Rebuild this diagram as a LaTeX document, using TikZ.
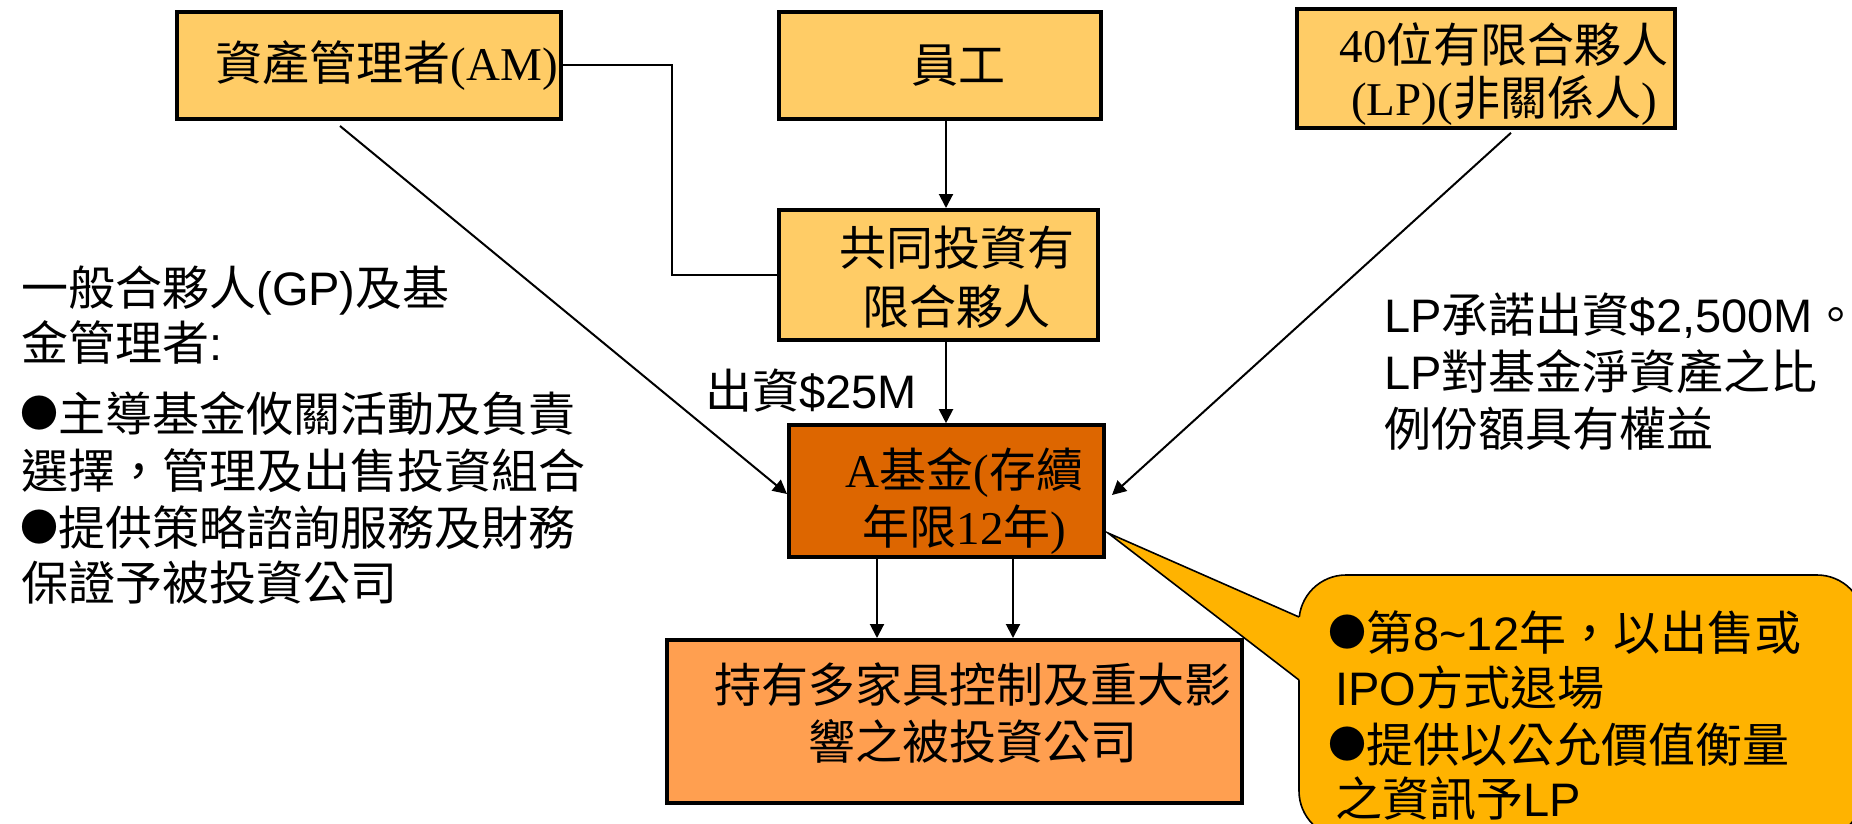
\documentclass[tikz,border=0pt]{standalone}
\usepackage{fontspec}
\setmainfont{Liberation Serif}
\newfontfamily\cjk{Noto Sans CJK TC}
\newfontfamily\ars{Liberation Sans}
\usetikzlibrary{arrows.meta,calc}
\definecolor{boxY}{HTML}{FFCC66}
\definecolor{boxA}{HTML}{DD6600}
\definecolor{boxB}{HTML}{FF9F50}
\definecolor{callY}{HTML}{FFB300}
\newcommand\ind{\hspace*{18pt}}
\newcommand\cj[1]{{\cjk #1}}
\newcommand\as[1]{{\ars #1}}
\newcommand\bul{\makebox[18.5pt][c]{\raisebox{1.7pt}{\cjk\fontsize{19pt}{28pt}\selectfont ●}}}
\newcommand\sH[1]{\rule{0pt}{#1}}
\newcommand\sD[1]{\rule[-#1]{0pt}{0pt}}
\begin{document}
\begin{tikzpicture}[x=0.5pt,y=-0.5pt,
  every node/.style={inner sep=0pt},
  txt/.style={font=\fontsize{23.5pt}{28.5pt}\selectfont},
  box/.style={draw, line width=2pt, txt, align=center},
  conn/.style={line width=1pt},
  arr/.style={conn, -{Triangle[length=7pt,width=7pt]}},
  free/.style={txt, anchor=base west},
  callout/.style={fill=callY, draw, line width=0.8pt}
]
\useasboundingbox (0,0) rectangle (1852,824);
\clip (0,0) rectangle (1852,824);

% boxes
\node[box, fill=boxY, minimum width=192pt, minimum height=53.5pt] (am) at (369,65.5) {\ind\cj{資產管理者}(AM)};
\node[box, fill=boxY, minimum width=161pt, minimum height=53.5pt] (emp) at (940,65.5) {\ind\cj{員工}};
\node[box, fill=boxY, minimum width=189pt, minimum height=55.5pt] (lp) at (1486,68.5) {\sH{26.8pt}\ind 40\cj{位有限合夥人}\\[-2pt]\ind(LP)(\cj{非關係人})\sD{6pt}};
\node[box, fill=boxY, minimum width=159.5pt, minimum height=65pt] (coop) at (938.5,275) {\sH{26.3pt}\ind\cj{共同投資有}\\[1pt]\ind\cj{限合夥人}\sD{6pt}};
\node[box, fill=boxA, minimum width=157.5pt, minimum height=64pt] (afund) at (946.5,491) {\sH{31.3pt}\ind A\cj{基金}(\cj{存續}\\\ind\cj{年限}12\cj{年})\sD{6pt}};
\node[box, fill=boxB, minimum width=287.5pt, minimum height=81.5pt] (bot) at (954.5,721.5) {\sH{22pt}\ind\cj{持有多家具控制及重大影}\\\ind\cj{響之被投資公司}\sD{12.2pt}};

% connectors
\draw[conn] (am.east) -- ++(109,0) |- (coop.west);
\draw[arr] ($(am.south west)+(165,5)$) -- ($(afund.west)+(0,3)$);
\draw[arr] ($(lp.south west)+(216,3)$) -- ($(afund.east)+(6,4)$);
\draw[arr] ($(emp.south)+(6,0)$) -- ($(coop.north)+(7.5,0)$);
\draw[arr] ($(coop.south)+(7.5,0)$) -- ($(afund.north)+(-0.5,0)$);
\draw[arr] ($(afund.south)+(-69.5,0)$) -- ($(bot.north)+(-77.5,0)$);
\draw[arr] ($(afund.south)+(66.5,0)$) -- ($(bot.north)+(58.5,0)$);

% callout
\coordinate (tip) at ($(afund.east)+(2,42)$);
\draw[callout, rounded corners=23.5pt] (1299,575) rectangle (1864,838);
\fill[callY] (tip) -- (1299,617) -- (1304,617) -- (1304,680) -- (1299,680) -- cycle;
\draw[line width=0.8pt, line join=miter] (1299,617) -- (tip) -- (1299,680);

\node[free] (c1) at (1329,650) {\bul\cj{第}\as{8\string~12}\cj{年，以出售或}};
\node[free] (c2) at (1335,705) {\as{IPO}\cj{方式退場}};
\node[free] (c3) at (1329,762) {\bul\cj{提供以公允價值衡量}};
\node[free] (c4) at (1335,816) {\cj{之資訊予}\as{LP}};

% left text
\node[free] (l1) at (21,305) {\cj{一般合夥人}\as{(GP)}\cj{及基}};
\node[free] (l2) at (21,360) {\cj{金管理者}\as{:}};
\node[free] (l3) at (21,431) {\bul\cj{主導基金攸關活動及負責}};
\node[free] (l4) at (21,488) {\cj{選擇，管理及出售投資組合}};
\node[free] (l5) at (21,545) {\bul\cj{提供策略諮詢服務及財務}};
\node[free] (l6) at (21,600) {\cj{保證予被投資公司}};

% right text
\node[free] (r1) at (1384,332) {\as{LP}\cj{承諾出資}\as{\$2,500M}\makebox[0.7em][l]{\cj{。}}};
\node[free] (r2) at (1384,389) {\as{LP}\cj{對基金淨資產之比}};
\node[free] (r3) at (1384,446) {\cj{例份額具有權益}};

% contribution label
\node[free] (cap) at (705,408) {\cj{出資}\as{\$25M}};
\end{tikzpicture}
\end{document}
